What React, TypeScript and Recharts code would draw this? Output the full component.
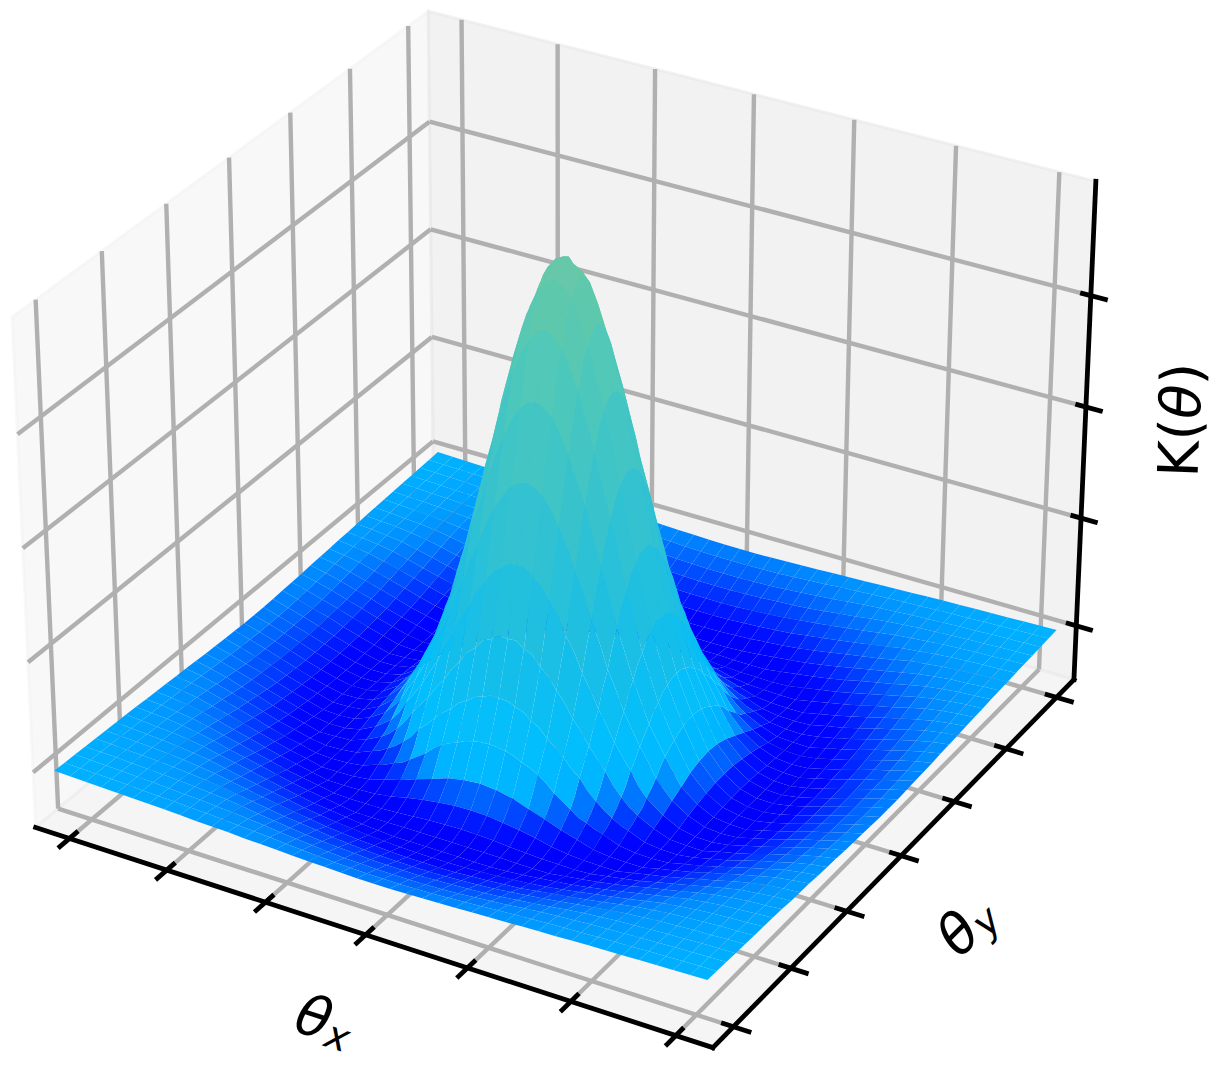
import React from "react";
import { ScatterChart, Scatter, XAxis, YAxis } from "recharts";

const WIDTH = 1217;
const HEIGHT = 1072;

const thetaTicks = [-3, -2, -1, 0, 1, 2, 3];
const kernelTicks = [90, 321, 555, 785];
const THETA_SPAN = 6.7;
const GRID_CELLS = 40;
const FINE_LIMIT = 16;

// K(theta), per mille of the full height, one quadrant:
// row/column 0 is the centre of the bump, 20 is the edge of the grid
const quadrant = [
  [1000, 970, 885, 755, 607, 455, 320, 214, 135, 70, 32, 10, 1, 0, 6, 15, 25, 36, 46, 56, 65],
  [970, 942, 855, 732, 590, 440, 310, 207, 131, 67, 31, 9, 1, 0, 6, 15, 25, 36, 46, 56, 65],
  [885, 855, 780, 665, 535, 400, 282, 188, 118, 60, 27, 8, 1, 0, 7, 16, 26, 37, 47, 57, 66],
  [755, 732, 665, 572, 455, 340, 243, 160, 102, 48, 22, 5, 1, 0, 9, 18, 28, 39, 48, 58, 67],
  [607, 590, 535, 455, 362, 272, 194, 131, 74, 37, 16, 3, 0, 2, 11, 20, 30, 41, 50, 60, 68],
  [455, 440, 400, 340, 272, 207, 147, 98, 50, 25, 8, 1, 0, 5, 14, 23, 33, 43, 53, 62, 69],
  [320, 310, 282, 243, 194, 147, 105, 60, 32, 15, 3, 1, 0, 9, 17, 26, 37, 46, 56, 64, 71],
  [214, 207, 188, 160, 131, 98, 60, 35, 19, 5, 1, 0, 5, 13, 21, 31, 41, 50, 59, 67, 72],
  [135, 131, 118, 102, 74, 50, 32, 19, 6, 1, 0, 2, 10, 17, 26, 36, 45, 54, 63, 69, 73],
  [70, 67, 60, 48, 37, 25, 15, 5, 1, 0, 0, 8, 15, 23, 32, 41, 50, 58, 66, 71, 75],
  [32, 31, 27, 22, 16, 8, 3, 1, 0, 0, 7, 14, 21, 29, 38, 46, 55, 63, 69, 73, 76],
  [10, 9, 8, 5, 3, 1, 1, 0, 2, 8, 14, 20, 28, 36, 44, 52, 60, 67, 71, 75, 77],
  [1, 1, 1, 1, 0, 0, 0, 5, 10, 15, 21, 28, 36, 43, 50, 58, 65, 70, 74, 76, 79],
  [0, 0, 0, 0, 2, 5, 9, 13, 17, 23, 29, 36, 43, 50, 57, 64, 69, 73, 75, 78, 80],
  [6, 6, 7, 9, 11, 14, 17, 21, 26, 32, 38, 44, 50, 57, 64, 68, 72, 75, 77, 79, 81],
  [15, 15, 16, 18, 20, 23, 26, 31, 36, 41, 46, 52, 58, 64, 68, 72, 75, 77, 79, 80, 82],
  [25, 25, 26, 28, 30, 33, 37, 41, 45, 50, 55, 60, 65, 69, 72, 75, 77, 79, 80, 82, 83],
  [36, 36, 37, 39, 41, 43, 46, 50, 54, 58, 63, 67, 70, 73, 75, 77, 79, 80, 82, 83, 84],
  [46, 46, 47, 48, 50, 53, 56, 59, 63, 66, 69, 71, 74, 75, 77, 79, 80, 82, 83, 84, 85],
  [56, 56, 57, 58, 60, 62, 64, 67, 69, 71, 73, 75, 76, 78, 79, 80, 82, 83, 84, 85, 86],
  [65, 65, 66, 67, 68, 69, 71, 72, 73, 75, 76, 77, 79, 80, 81, 82, 83, 84, 85, 86, 87],
];

// same reading in half-cell steps around the bump, the cell borders follow it
const peakFine = [
  [1000, 992, 969, 932, 882, 823, 755, 682, 607, 531, 458, 389, 325, 267, 216, 173, 135],
  [992, 984, 961, 925, 875, 816, 749, 677, 602, 527, 454, 386, 322, 265, 214, 172, 134],
  [969, 961, 939, 903, 855, 797, 732, 661, 588, 515, 444, 377, 315, 259, 209, 168, 131],
  [932, 925, 903, 869, 822, 767, 704, 636, 566, 495, 427, 363, 303, 249, 201, 161, 126],
  [882, 875, 855, 822, 778, 726, 666, 602, 535, 468, 404, 343, 287, 235, 191, 153, 119],
  [823, 816, 797, 767, 726, 677, 621, 561, 500, 437, 377, 320, 267, 220, 178, 142, 111],
  [755, 749, 732, 704, 666, 621, 570, 515, 458, 401, 346, 294, 245, 202, 163, 131, 102],
  [682, 677, 661, 636, 602, 561, 515, 465, 414, 362, 312, 265, 222, 182, 147, 118, 90],
  [607, 602, 588, 566, 535, 500, 458, 414, 368, 322, 278, 236, 197, 162, 131, 105, 76],
  [531, 527, 515, 495, 468, 437, 401, 362, 322, 282, 243, 207, 173, 142, 112, 88, 62],
  [458, 454, 444, 427, 404, 377, 346, 312, 278, 243, 210, 178, 149, 122, 97, 70, 50],
  [389, 386, 377, 363, 343, 320, 294, 265, 236, 207, 178, 151, 126, 104, 76, 56, 38],
  [325, 322, 315, 303, 287, 267, 245, 222, 197, 173, 149, 126, 105, 80, 60, 44, 32],
  [267, 265, 259, 249, 235, 220, 202, 182, 162, 142, 122, 104, 80, 61, 46, 34, 24],
  [216, 214, 209, 201, 191, 178, 163, 147, 131, 112, 97, 76, 60, 46, 35, 25, 19],
  [173, 172, 168, 161, 153, 142, 131, 118, 105, 88, 70, 56, 44, 34, 25, 19, 12],
  [135, 134, 131, 126, 119, 111, 102, 90, 76, 62, 50, 38, 32, 24, 19, 12, 6],
];

// colour stops of the surface: [height, r, g, b]
const colorStops = [
  [0, 0, 0, 250],
  [12, 0, 5, 255],
  [25, 0, 35, 255],
  [45, 0, 85, 255],
  [65, 0, 135, 255],
  [87, 0, 180, 255],
  [130, 0, 190, 255],
  [300, 25, 190, 230],
  [550, 55, 195, 205],
  [800, 80, 200, 185],
  [1000, 105, 200, 165],
];

// mplot3d camera: elev 30, azim -60, dist 10, box aspect 4:4:3
const BOX = [1.14286, 1.14286, 0.85714];
const PX_SCALE = 6791;
const ORIGIN_X = 564;
const ORIGIN_Y = 505.5;
const GRID_MARGIN = 0.0195;
const HEIGHT_FLOOR = 0.026;
const HEIGHT_RANGE = 0.958;

function project(t: number, s: number, w: number) {
  const dx = (t - 0.5) * BOX[0];
  const dy = (s - 0.5) * BOX[1];
  const dz = (w - 0.5) * BOX[2];
  const cu = 0.866025 * dx + 0.5 * dy;
  const cv = -0.25 * dx + 0.433013 * dy + 0.866025 * dz;
  const depth = 0.433013 * dx - 0.75 * dy + 0.5 * dz;
  const dist = 10 - depth;
  return {
    sx: ORIGIN_X + (PX_SCALE * cu) / dist,
    sy: ORIGIN_Y - (PX_SCALE * cv) / dist,
    depth,
  };
}

const thetaFrac = (v: number) => 0.5 + v / THETA_SPAN;
const gridFrac = (i: number) => GRID_MARGIN + (i / GRID_CELLS) * (1 - 2 * GRID_MARGIN);
const heightFrac = (h: number) => HEIGHT_FLOOR + (h / 1000) * HEIGHT_RANGE;
const heightAt = (i: number, j: number) =>
  quadrant[Math.abs(i - GRID_CELLS / 2)][Math.abs(j - GRID_CELLS / 2)];

function surfaceColor(h: number) {
  let k = 0;
  while (k < colorStops.length - 2 && h > colorStops[k + 1][0]) k++;
  const a = colorStops[k];
  const b = colorStops[k + 1];
  const f = (h - a[0]) / (b[0] - a[0]);
  const mix = (n: number) => Math.round(a[n] + (b[n] - a[n]) * f);
  return `rgb(${mix(1)},${mix(2)},${mix(3)})`;
}

// corners plus the half-cell points on the border where the fine table reaches
function perimeter(i: number, j: number) {
  const corners = [
    [i, j],
    [i + 1, j],
    [i + 1, j + 1],
    [i, j + 1],
  ];
  const out: number[][] = [];
  corners.forEach(([a, b], n) => {
    const [c, d] = corners[(n + 1) % 4];
    out.push([a, b, heightAt(a, b)]);
    const ha = Math.abs(a + c - GRID_CELLS);
    const hb = Math.abs(b + d - GRID_CELLS);
    if (ha <= FINE_LIMIT && hb <= FINE_LIMIT) {
      out.push([(a + c) / 2, (b + d) / 2, peakFine[ha][hb]]);
    }
  });
  return out;
}

function buildCells() {
  const cells: any[] = [];
  for (let i = 0; i < GRID_CELLS; i++) {
    for (let j = 0; j < GRID_CELLS; j++) {
      const border = perimeter(i, j);
      const pts = border.map(([a, b, h]) => project(gridFrac(a), gridFrac(b), heightFrac(h)));
      const mean = border.reduce((acc, q) => acc + q[2], 0) / border.length;
      cells.push({
        sx: pts[0].sx,
        sy: pts[0].sy,
        pts,
        fill: surfaceColor(mean),
        order: pts.reduce((acc, p) => acc + p.depth, 0) / pts.length,
      });
    }
  }
  // painter's order, far cells first
  return cells.sort((a, b) => a.order - b.order);
}

function polygon(corners: number[][], fill: string) {
  const pts = corners.map(([t, s, w]) => project(t, s, w));
  return { sx: pts[0].sx, sy: pts[0].sy, pts, fill };
}

function segment(a: number[], b: number[]) {
  const p = project(a[0], a[1], a[2]);
  const q = project(b[0], b[1], b[2]);
  return { sx: p.sx, sy: p.sy, ex: q.sx, ey: q.sy };
}

const paneData = [
  polygon([[0, 0, 0], [0, 1, 0], [0, 1, 1], [0, 0, 1]], "rgba(242,242,242,0.5)"),
  polygon([[0, 1, 0], [1, 1, 0], [1, 1, 1], [0, 1, 1]], "rgba(230,230,230,0.5)"),
  polygon([[0, 0, 0], [1, 0, 0], [1, 1, 0], [0, 1, 0]], "rgba(236,236,236,0.5)"),
];

const gridData = [
  ...thetaTicks.flatMap((v) => {
    const t = thetaFrac(v);
    return [segment([t, 0, 0], [t, 1, 0]), segment([t, 1, 0], [t, 1, 1])];
  }),
  ...thetaTicks.flatMap((v) => {
    const s = thetaFrac(v);
    return [segment([1, s, 0], [0, s, 0]), segment([0, s, 0], [0, s, 1])];
  }),
  ...kernelTicks.flatMap((h) => {
    const w = heightFrac(h);
    return [segment([1, 1, w], [0, 1, w]), segment([0, 1, w], [0, 0, w])];
  }),
];

const axisData = [
  segment([0, 0, 0], [1, 0, 0]),
  segment([1, 0, 0], [1, 1, 0]),
  segment([1, 1, 0], [1, 1, 1]),
  ...thetaTicks.map((v) => segment([thetaFrac(v), -0.022, 0], [thetaFrac(v), 0.016, 0])),
  ...thetaTicks.map((v) => segment([1.022, thetaFrac(v), 0], [0.986, thetaFrac(v), 0])),
  ...kernelTicks.map((h) => segment([1.021, 1, heightFrac(h)], [0.988, 1, heightFrac(h)])),
];

const cellData = buildCells();

const labelData = [
  { sx: 325, sy: 1020, angle: 18, main: "θ", sub: "x" },
  { sx: 966, sy: 925, angle: -45, main: "θ", sub: "y" },
  { sx: 1180, sy: 420, angle: -88, main: "θ", pre: "K(", post: ")" },
];

// the axes are 1:1 with chart pixels, so offsets between vertices stay in chart units
function polyPath(props: any) {
  const { cx, cy, payload } = props;
  return (
    payload.pts
      .map((p: any, n: number) => `${n ? "L" : "M"}${cx + p.sx - payload.sx} ${cy + p.sy - payload.sy}`)
      .join("") + "Z"
  );
}

function CellShape(props: any) {
  return <path d={polyPath(props)} fill={props.payload.fill} stroke="none" />;
}

function PaneShape(props: any) {
  const fill = props.payload.fill;
  return <path d={polyPath(props)} fill={fill} stroke={fill} strokeWidth={3} />;
}

function GridShape(props: any) {
  const { cx, cy, payload } = props;
  return (
    <line
      x1={cx}
      y1={cy}
      x2={cx + payload.ex - payload.sx}
      y2={cy + payload.ey - payload.sy}
      stroke="#b0b0b0"
      strokeWidth={4.4}
    />
  );
}

function AxisShape(props: any) {
  const { cx, cy, payload } = props;
  return (
    <line
      x1={cx}
      y1={cy}
      x2={cx + payload.ex - payload.sx}
      y2={cy + payload.ey - payload.sy}
      stroke="#000"
      strokeWidth={4.8}
      strokeLinecap="square"
    />
  );
}

function LabelShape(props: any) {
  const { cx, cy, payload } = props;
  return (
    <text
      x={cx}
      y={cy}
      textAnchor="middle"
      dominantBaseline="central"
      transform={`rotate(${payload.angle} ${cx} ${cy})`}
      fontFamily="DejaVu Sans"
      fontSize={56}
      fill="#000"
    >
      {payload.pre}
      <tspan fontStyle="italic">{payload.main}</tspan>
      {payload.post}
      {payload.sub && (
        <tspan fontStyle="italic" fontSize={39} dy={11}>
          {payload.sub}
        </tspan>
      )}
    </text>
  );
}

export default function App() {
  return (
    <div style={{ position: "absolute", left: 0, top: 0, background: "#fff" }}>
      <ScatterChart width={WIDTH} height={HEIGHT} margin={{ top: 0, right: 0, bottom: 0, left: 0 }}>
        <XAxis type="number" dataKey="sx" domain={[0, WIDTH]} allowDataOverflow hide />
        <YAxis type="number" dataKey="sy" domain={[0, HEIGHT]} reversed allowDataOverflow hide />
        <Scatter data={paneData} shape={PaneShape} isAnimationActive={false} />
        <Scatter data={gridData} shape={GridShape} isAnimationActive={false} />
        <Scatter data={cellData} shape={CellShape} isAnimationActive={false} />
        <Scatter data={axisData} shape={AxisShape} isAnimationActive={false} />
        <Scatter data={labelData} shape={LabelShape} isAnimationActive={false} />
      </ScatterChart>
    </div>
  );
}
